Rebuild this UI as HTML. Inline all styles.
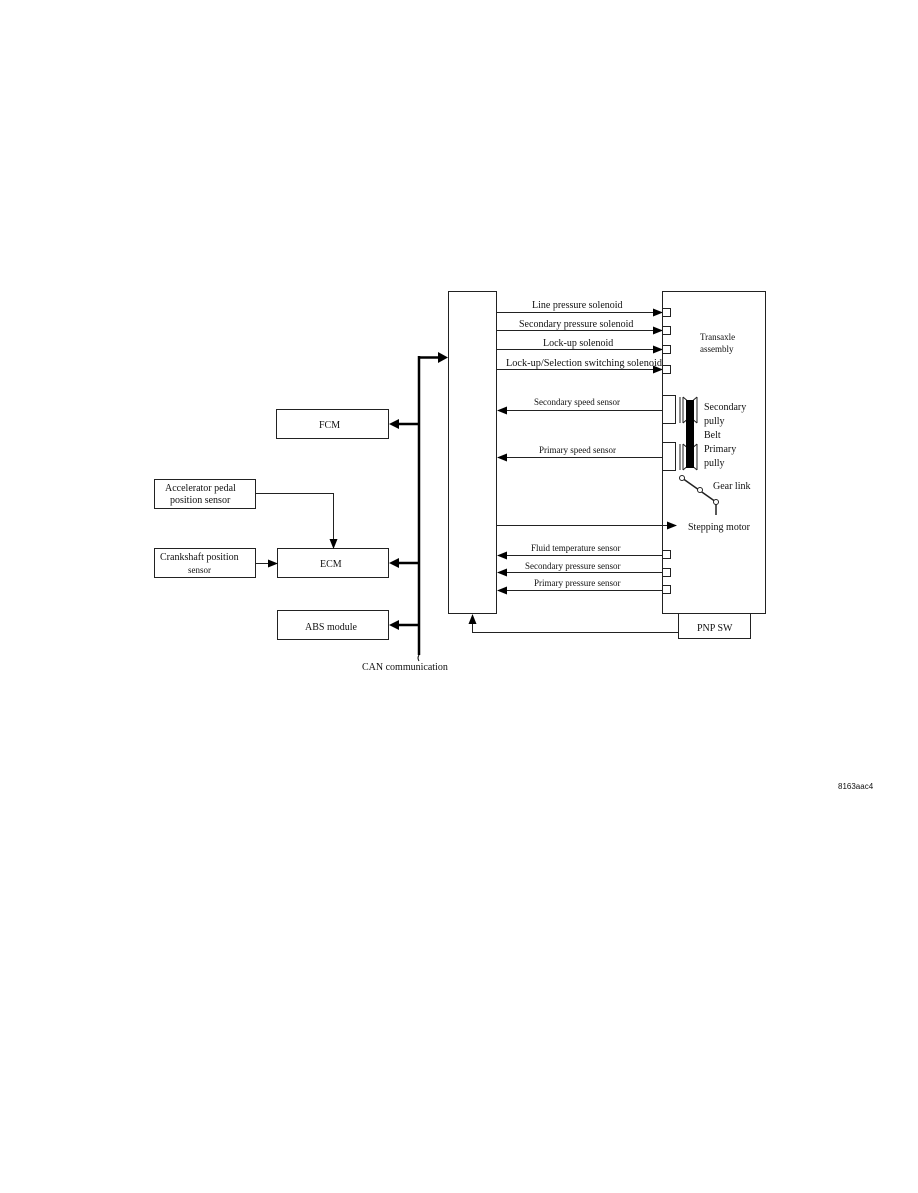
<!DOCTYPE html>
<html><head><style>
body{margin:0;background:#fff}
svg text{font-family:"Liberation Serif",serif;fill:#111}
</style></head><body>
<svg width="918" height="1188" viewBox="0 0 918 1188" xmlns="http://www.w3.org/2000/svg">
<defs>
<marker id="a" markerWidth="10" markerHeight="8" refX="9" refY="4" orient="auto" markerUnits="userSpaceOnUse"><path d="M0,0 L10,4 L0,8 z" fill="#000"/></marker>
</defs>
<g fill="none" stroke="#222" stroke-width="1">
<rect x="448.5" y="291.5" width="48" height="322"/>
<rect x="662.5" y="291.5" width="103" height="322"/>
<rect x="678.5" y="613.5" width="72" height="25"/>
<rect x="276.5" y="409.5" width="112" height="29"/>
<rect x="154.5" y="479.5" width="101" height="29"/>
<rect x="154.5" y="548.5" width="101" height="29"/>
<rect x="277.5" y="548.5" width="111" height="29"/>
<rect x="277.5" y="610.5" width="111" height="29"/>
<!-- solenoids -->
<line x1="497" y1="312.5" x2="662" y2="312.5" marker-end="url(#a)"/>
<line x1="497" y1="330.5" x2="662" y2="330.5" marker-end="url(#a)"/>
<line x1="497" y1="349.5" x2="662" y2="349.5" marker-end="url(#a)"/>
<line x1="497" y1="369.5" x2="662" y2="369.5" marker-end="url(#a)"/>
<rect x="662.5" y="308.5" width="8" height="8"/>
<rect x="662.5" y="326.5" width="8" height="8"/>
<rect x="662.5" y="345.5" width="8" height="8"/>
<rect x="662.5" y="365.5" width="8" height="8"/>
<!-- speed sensors -->
<line x1="662" y1="410.5" x2="498" y2="410.5" marker-end="url(#a)"/>
<line x1="662" y1="457.5" x2="498" y2="457.5" marker-end="url(#a)"/>
<rect x="662.5" y="395.5" width="13" height="28"/>
<rect x="662.5" y="442.5" width="13" height="28"/>
<!-- pulleys -->
<path d="M680,397 L680,423 M683,397 L683,423 M683,397 L690,403 M683,423 L690,417"/>
<path d="M697,397 L697,423 M697,397 L690,403 M697,423 L690,417"/>
<path d="M680,444 L680,470 M683,444 L683,470 M683,444 L690,450 M683,470 L690,464"/>
<path d="M697,444 L697,470 M697,444 L690,450 M697,470 L690,464"/>
<!-- gear link -->
<path d="M682,478 L716,502 M716,502 L716,515" stroke-width="1.5"/>
<circle cx="682" cy="478" r="2.5" fill="#fff"/>
<circle cx="700" cy="490" r="2.5" fill="#fff"/>
<circle cx="716" cy="502" r="2.5" fill="#fff"/>
<line x1="497" y1="525.5" x2="676" y2="525.5" marker-end="url(#a)"/>
<!-- bottom sensors -->
<line x1="662" y1="555.5" x2="498" y2="555.5" marker-end="url(#a)"/>
<line x1="662" y1="572.5" x2="498" y2="572.5" marker-end="url(#a)"/>
<line x1="662" y1="590.5" x2="498" y2="590.5" marker-end="url(#a)"/>
<rect x="662.5" y="550.5" width="8" height="8"/>
<rect x="662.5" y="568.5" width="8" height="8"/>
<rect x="662.5" y="585.5" width="8" height="8"/>
<!-- PNP -->
<polyline points="678,632.5 472.5,632.5 472.5,615" marker-end="url(#a)"/>
<!-- accel -->
<polyline points="255,493.5 333.5,493.5 333.5,548" marker-end="url(#a)"/>
<line x1="255" y1="563.5" x2="277" y2="563.5" marker-end="url(#a)"/>
</g>
<rect x="686" y="400" width="8" height="68" fill="#000"/>
<!-- bus -->
<g stroke="#000" stroke-width="2.5" fill="none">
<line x1="419" y1="356" x2="419" y2="655"/>
<line x1="419" y1="357.5" x2="438" y2="357.5"/>
<line x1="419" y1="424" x2="398" y2="424"/>
<line x1="419" y1="563" x2="398" y2="563"/>
<line x1="419" y1="625" x2="398" y2="625"/>
</g>
<path d="M438,352 L448,357.5 L438,363z M389,424 L399,419 L399,429z M389,563 L399,558 L399,568z M389,625 L399,620 L399,630z" fill="#000"/>
<path d="M419,655 q-2,3 0,6" stroke="#000" fill="none"/>
<g font-size="10">
<text x="532" y="308">Line pressure solenoid</text>
<text x="519" y="327">Secondary pressure solenoid</text>
<text x="543" y="346">Lock-up solenoid</text>
<text x="506" y="366" textLength="156" lengthAdjust="spacingAndGlyphs">Lock-up/Selection switching solenoid</text>
<text x="700" y="340" font-size="9">Transaxle</text>
<text x="700" y="352" font-size="9">assembly</text>
<text x="534" y="405" font-size="9">Secondary speed sensor</text>
<text x="539" y="453" font-size="9">Primary speed sensor</text>
<text x="704" y="410">Secondary</text>
<text x="704" y="424">pully</text>
<text x="704" y="438">Belt</text>
<text x="704" y="452">Primary</text>
<text x="704" y="466">pully</text>
<text x="713" y="489">Gear link</text>
<text x="688" y="530">Stepping motor</text>
<text x="531" y="551" font-size="9">Fluid temperature sensor</text>
<text x="525" y="569" font-size="9">Secondary pressure sensor</text>
<text x="534" y="586" font-size="9">Primary pressure sensor</text>
<text x="697" y="631">PNP SW</text>
<text x="319" y="428">FCM</text>
<text x="165" y="491">Accelerator pedal</text>
<text x="170" y="503">position sensor</text>
<text x="160" y="560">Crankshaft position</text>
<text x="188" y="573" font-size="9">sensor</text>
<text x="320" y="567">ECM</text>
<text x="305" y="630">ABS module</text>
<text x="362" y="670">CAN communication</text>
<text x="838" y="789" font-size="8" style="font-family:'Liberation Sans',sans-serif">8163aac4</text>
</g>
</svg>
</body></html>
